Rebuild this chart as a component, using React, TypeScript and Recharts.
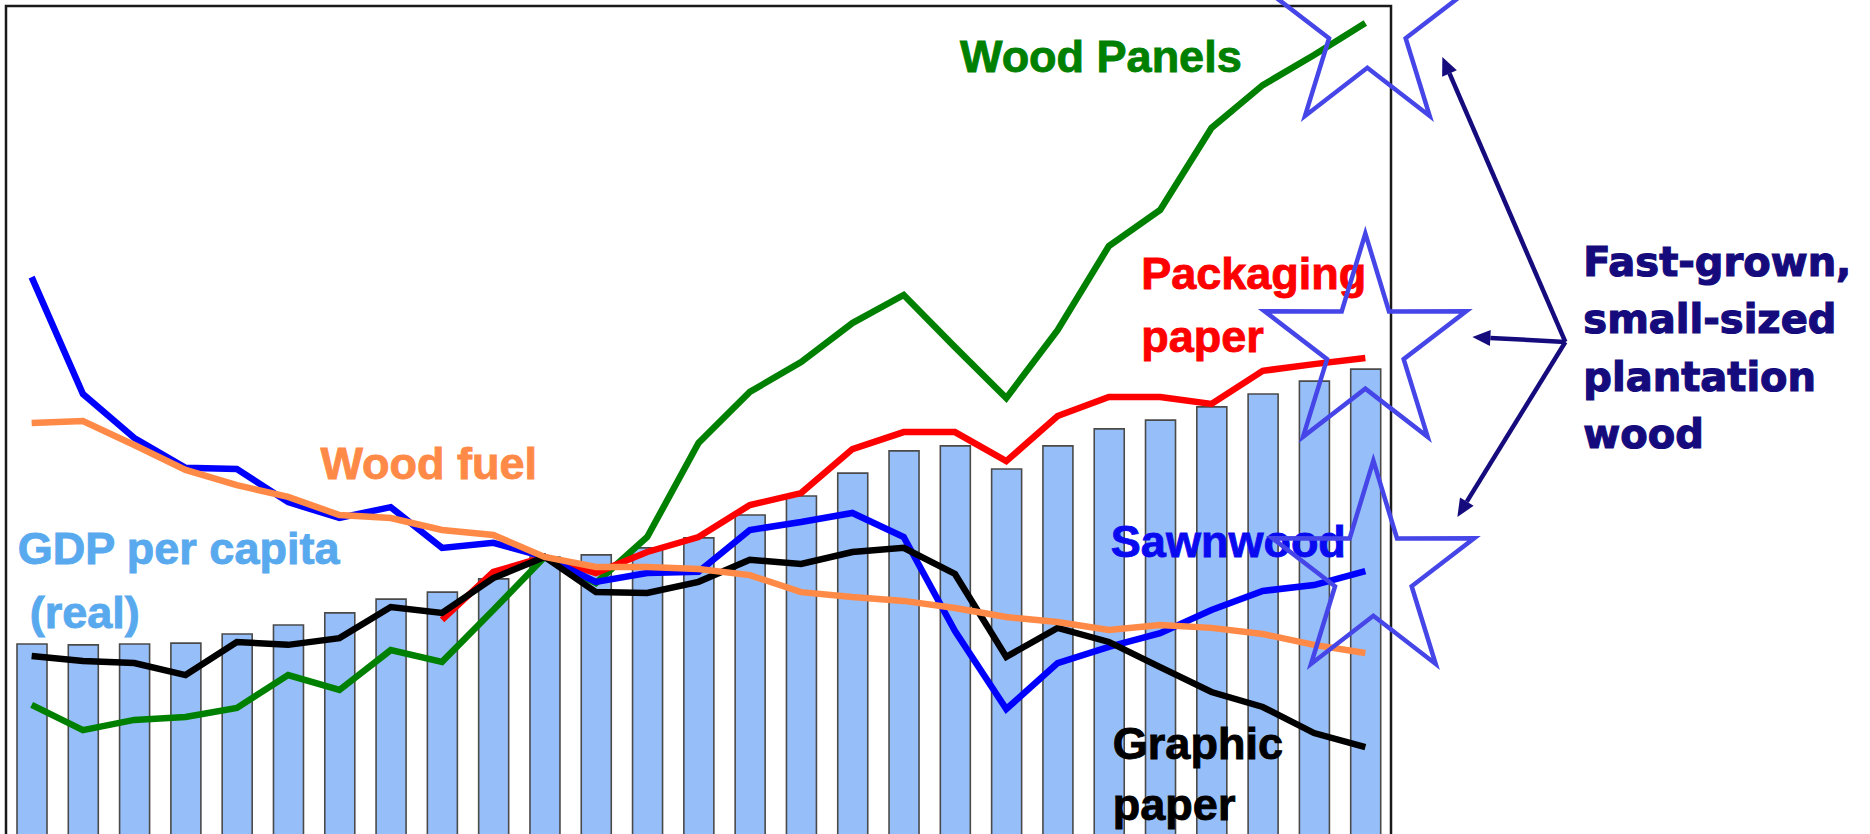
import React from 'react'
import {
  ComposedChart,
  Bar,
  Line,
  XAxis,
  YAxis,
  ReferenceArea,
  ReferenceDot,
} from 'recharts'

// index values, all series = 100 in period 11
const periods = [
  '1', '2', '3', '4', '5', '6', '7', '8', '9', '10', '11', '12', '13', '14',
  '15', '16', '17', '18', '19', '20', '21', '22', '23', '24', '25', '26', '27',
]

const gdpPerCapita = [
  70.3, 70.0, 70.3, 70.6, 73.7, 76.8, 80.9, 85.6, 88.0, 92.5, 100, 100.7, 103.1, 106.5,
  114.3, 120.8, 128.6, 136.2, 137.9, 130.0, 137.9, 143.7, 146.7, 151.2, 155.6, 160.0, 164.1,
]

const woodPanels = [
  49.5, 40.9, 44.4, 45.4, 48.5, 59.7, 54.6, 68.2, 64.2, 81.9, 100, 91.1, 106.8, 138.9,
  156.3, 166.5, 179.8, 189.4, 171.6, 154.2, 177.4, 206.1, 218.4, 246.4, 261.0, 271.3, 282.2,
]

const packagingPaper = [
  null, null, null, null, null, null, null, null, 78.5, 94.9, 100, 94.5, 101.7, 106.8,
  117.7, 121.8, 136.8, 142.6, 142.6, 132.7, 148.1, 154.6, 154.6, 152.2, 163.5, 165.8, 167.9,
]

const sawnwood = [
  195.5, 155.6, 140.6, 130.4, 130.0, 118.7, 113.3, 117.0, 103.1, 104.8, 100, 91.5, 94.5, 94.9,
  109.2, 111.9, 115.0, 106.8, 74.7, 48.1, 63.8, 69.3, 74.0, 81.9, 88.4, 90.4, 95.2,
]

const woodFuel = [
  145.7, 146.4, 138.2, 129.7, 124.5, 120.5, 114.3, 113.3, 109.2, 107.5, 100, 96.6, 96.6, 95.9,
  93.8, 88.0, 86.3, 85.0, 82.6, 79.5, 77.8, 75.1, 76.8, 75.8, 73.7, 70.0, 67.2,
]

const graphicPaper = [
  66.2, 64.5, 63.8, 59.7, 71.0, 70.0, 72.3, 82.9, 80.9, 92.8, 100, 88.0, 87.7, 91.5,
  99.0, 97.6, 101.7, 103.1, 94.2, 65.9, 75.8, 71.0, 62.4, 53.9, 48.8, 39.9, 35.1,
]

const calloutLines = ['Fast-grown,', 'small-sized', 'plantation', 'wood']

const data = periods.map((period, i) => ({
  period,
  gdp: gdpPerCapita[i],
  panels: woodPanels[i],
  packaging: packagingPaper[i],
  sawnwood: sawnwood[i],
  fuel: woodFuel[i],
  graphic: graphicPaper[i],
}))

const Y_MAX = 288
const LABEL_FONT = "'Liberation Sans', Arial, Helvetica, sans-serif"
const CALLOUT_FONT = "'DejaVu Sans', Verdana, sans-serif"
const STAR_COLOR = '#4646e8'
const NAVY = '#150b7d'
const LINE_W = 6.5

// series names placed next to their lines
const seriesLabels = [
  { x: '19', y: 265.6, dx: 5, lines: ['Wood Panels'], color: '#008000', gap: 0 },
  { x: '23', y: 191.3, dx: -19, lines: ['Packaging', 'paper'], color: '#ff0000', gap: 63 },
  { x: '7', y: 126.6, dx: -19, lines: ['Wood fuel'], color: '#ff8a47', gap: 0 },
  { x: '1', y: 97.6, dx: -14, lines: ['GDP per capita'], color: '#58a9ee', gap: 0 },
  { x: '1', y: 75.9, dx: -2, lines: ['(real)'], color: '#58a9ee', gap: 0 },
  { x: '22', y: 100.0, dx: 2, lines: ['Sawnwood'], color: '#0a0af0', gap: 0 },
  { x: '22', y: 31.2, dx: 4, lines: ['Graphic', 'paper'], color: '#000000', gap: 61 },
]

const stars = [
  { x: '27', y: 281.5, dx: 2 },
  { x: '27', y: 172.0, dx: 0 },
  { x: '27', y: 94.5, dx: 8 },
]

function starPoints(cx: number, cy: number, R: number, sy: number) {
  const pts: string[] = []
  for (let k = 0; k < 10; k++) {
    const a = -Math.PI / 2 + (k * Math.PI) / 5
    const rad = k % 2 === 0 ? R : R * 0.38
    pts.push(`${cx + rad * Math.cos(a)},${cy + rad * Math.sin(a) * sy}`)
  }
  return pts.join(' ')
}

function Arrow({ x1, y1, x2, y2 }: { x1: number; y1: number; x2: number; y2: number }) {
  const ang = Math.atan2(y2 - y1, x2 - x1)
  const len = 18
  const hw = 8
  const bx = x2 - len * Math.cos(ang)
  const by = y2 - len * Math.sin(ang)
  const px = -Math.sin(ang) * hw
  const py = Math.cos(ang) * hw
  return (
    <g>
      <line x1={x1} y1={y1} x2={bx} y2={by} stroke={NAVY} strokeWidth={4.5} />
      <polygon points={`${x2},${y2} ${bx + px},${by + py} ${bx - px},${by - py}`} fill={NAVY} />
    </g>
  )
}

// arrows + text hang off the middle star
function Callout({ cx, cy }: { cx: number; cy: number }) {
  const ox = cx + 200
  const oy = cy - 4
  return (
    <g>
      <Arrow x1={ox} y1={oy} x2={cx + 77} y2={cy - 289} />
      <Arrow x1={ox} y1={oy} x2={cx + 107} y2={cy - 9} />
      <Arrow x1={ox} y1={oy} x2={cx + 92} y2={cy + 171} />
      <text
        x={cx + 218}
        y={cy - 70}
        fill={NAVY}
        stroke={NAVY}
        strokeWidth={1.2}
        fontSize={40}
        fontWeight="bold"
        fontFamily={CALLOUT_FONT}
      >
        {calloutLines.map((t, i) => (
          <tspan key={t} x={cx + 218} dy={i === 0 ? 0 : 57.3}>
            {t}
          </tspan>
        ))}
      </text>
    </g>
  )
}

export default function App() {
  return (
    <div
      style={{
        position: 'absolute',
        left: 0,
        top: 0,
        width: 1870,
        height: 834,
        overflow: 'hidden',
        background: '#fff',
      }}
    >
      <ComposedChart
        width={1870}
        height={860}
        data={data}
        margin={{ top: 6, right: 479, bottom: 10, left: 6 }}
      >
        <XAxis dataKey="period" hide />
        <YAxis hide domain={[0, Y_MAX]} allowDataOverflow />
        <ReferenceArea y1={0} y2={Y_MAX} fill="none" stroke="#1a1a1a" strokeWidth={2.5} />
        <Bar
          dataKey="gdp"
          barSize={30}
          fill="#96bff9"
          stroke="#4a4a4a"
          strokeWidth={1.6}
          isAnimationActive={false}
        />
        <Line
          type="linear"
          dataKey="panels"
          stroke="#008000"
          strokeWidth={LINE_W}
          dot={false}
          isAnimationActive={false}
        />
        <Line
          type="linear"
          dataKey="packaging"
          stroke="#ff0000"
          strokeWidth={LINE_W}
          dot={false}
          isAnimationActive={false}
        />
        <Line
          type="linear"
          dataKey="sawnwood"
          stroke="#0000ff"
          strokeWidth={LINE_W}
          dot={false}
          isAnimationActive={false}
        />
        <Line
          type="linear"
          dataKey="graphic"
          stroke="#000000"
          strokeWidth={LINE_W}
          dot={false}
          isAnimationActive={false}
        />
        <Line
          type="linear"
          dataKey="fuel"
          stroke="#ff8a47"
          strokeWidth={LINE_W}
          dot={false}
          isAnimationActive={false}
        />
        {seriesLabels.map((lab) => (
          <ReferenceDot
            key={lab.lines[0]}
            x={lab.x}
            y={lab.y}
            shape={(p: any) => (
              <text
                x={p.cx + lab.dx}
                y={p.cy}
                fill={lab.color}
                stroke={lab.color}
                strokeWidth={0.9}
                fontSize={45}
                fontWeight="bold"
                fontFamily={LABEL_FONT}
              >
                {lab.lines.map((t, i) => (
                  <tspan key={i} x={p.cx + lab.dx} dy={i === 0 ? 0 : lab.gap}>
                    {t}
                  </tspan>
                ))}
              </text>
            )}
          />
        ))}
        {stars.map((s, i) => (
          <ReferenceDot
            key={'star' + i}
            x={s.x}
            y={s.y}
            shape={(p: any) => (
              <polygon
                points={starPoints(p.cx + s.dx, p.cy, 106, 1.06)}
                fill="none"
                stroke={STAR_COLOR}
                strokeWidth={4.5}
              />
            )}
          />
        ))}
        <ReferenceDot
          x={stars[1].x}
          y={stars[1].y}
          shape={(p: any) => <Callout cx={p.cx} cy={p.cy} />}
        />
      </ComposedChart>
    </div>
  )
}
